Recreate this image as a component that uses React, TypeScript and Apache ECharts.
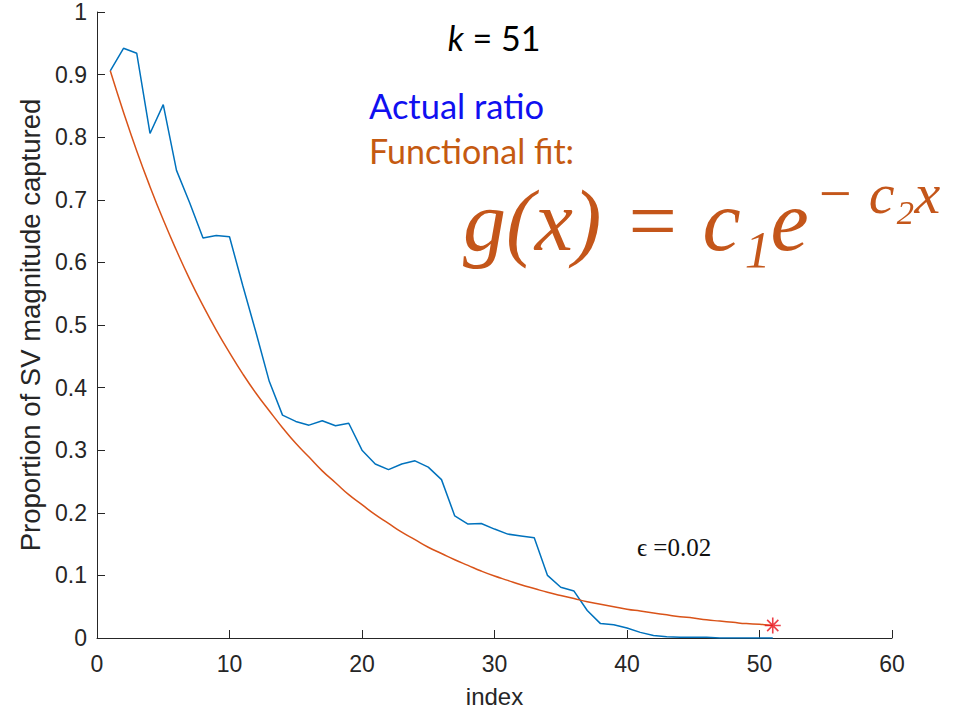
import React, { useEffect, useRef } from "react";
import * as echarts from "echarts";

const xIndex = [1,2,3,4,5,6,7,8,9,10,11,12,13,14,15,16,17,18,19,20,21,22,23,24,25,26,27,28,29,30,31,32,33,34,35,36,37,38,39,40,41,42,43,44,45,46,47,48,49,50,51];
const actualRatio = [0.906,0.942,0.934,0.806,0.852,0.747,0.695,0.639,0.643,0.641,0.563,0.488,0.410,0.356,0.346,0.340,0.347,0.339,0.343,0.300,0.278,0.269,0.278,0.283,0.273,0.253,0.195,0.182,0.183,0.174,0.166,0.163,0.160,0.100,0.081,0.075,0.044,0.023,0.021,0.016,0.009,0.004,0.002,0.001,0.001,0.001,0.000,0.000,0.000,0.000,0.000];
const functionalFit = [0.906,0.840,0.778,0.721,0.668,0.619,0.573,0.531,0.492,0.456,0.422,0.391,0.363,0.336,0.311,0.289,0.267,0.248,0.229,0.213,0.197,0.183,0.169,0.157,0.145,0.135,0.125,0.116,0.107,0.099,0.092,0.085,0.079,0.073,0.068,0.063,0.058,0.054,0.050,0.046,0.043,0.040,0.037,0.034,0.032,0.029,0.027,0.025,0.023,0.022,0.020];
const cutoffPoint = [51, 0.02];
const xTicks = [0, 10, 20, 30, 40, 50, 60];
const yTicks = [0, 0.1, 0.2, 0.3, 0.4, 0.5, 0.6, 0.7, 0.8, 0.9, 1];

const AXIS = "#262626";
const FIT = "#C55A11";
const MATH = "#C4561A";
const SERIF = "'Liberation Serif', 'DejaVu Serif', serif";
const SANS = "'Liberation Sans', Arial, sans-serif";
const UI = "Lato, 'Open Sans', sans-serif";

export default function App() {
  const ref = useRef<HTMLDivElement>(null);
  useEffect(() => {
    if (!ref.current) return;
    const chart = echarts.init(ref.current, null, { renderer: "svg" });
    const option: any = {
      animation: false,
      backgroundColor: "#ffffff",
      grid: { left: 97, right: 79, top: 12, bottom: 73, containLabel: false },
      xAxis: {
        type: "value", min: 0, max: 60, interval: 10,
        name: "index", nameLocation: "middle", nameGap: 46,
        nameTextStyle: { fontFamily: SANS, fontSize: 24, color: AXIS },
        axisLine: { onZero: false, lineStyle: { color: AXIS, width: 1 } },
        axisTick: { inside: true, length: 8, lineStyle: { color: AXIS } },
        axisLabel: { fontFamily: SANS, fontSize: 23, color: AXIS, margin: 14, customValues: xTicks },
        splitLine: { show: false },
      },
      yAxis: {
        type: "value", min: 0, max: 1, interval: 0.1,
        name: "Proportion of SV magnitude captured", nameLocation: "middle", nameGap: 50,
        nameTextStyle: { fontFamily: SANS, fontSize: 27.5, color: AXIS },
        axisLine: { show: true, onZero: false, lineStyle: { color: AXIS, width: 1 } },
        axisTick: { show: true, inside: true, length: 8, lineStyle: { color: AXIS } },
        axisLabel: {
          fontFamily: SANS, fontSize: 23, color: AXIS, margin: 10,
          formatter: (v: number) => {
            const t = yTicks.find((q) => Math.abs(q - v) < 1e-9);
            return t === undefined ? "" : String(t);
          },
        },
        splitLine: { show: false },
      },
      series: [
        { type: "line", name: "Actual ratio", data: xIndex.map((x, i) => [x, actualRatio[i]]), showSymbol: false, lineStyle: { color: "#0072BD", width: 1.5 }, z: 2 },
        { type: "line", name: "Functional fit", data: xIndex.map((x, i) => [x, functionalFit[i]]), showSymbol: false, smooth: true, lineStyle: { color: "#D95319", width: 1.5 }, z: 3 },
        {
          type: "scatter", data: [cutoffPoint],
          symbol: "path://M0,-10L0,10M-10,0L10,0M-7,-7L7,7M-7,7L7,-7", symbolSize: 16,
          itemStyle: { color: "none", borderColor: "#E8101A", borderWidth: 1.6 }, z: 4,
        },
      ],
      graphic: [
        { type: "text", x: 463, y: 221, style: { text: "g(x) = c\u2081e", fontFamily: "Liberation Serif", fontSize: 86, fontStyle: "italic", fill: MATH, align: "left", verticalAlign: "middle" } },
        { type: "text", x: 815, y: 193, style: { text: "\u2212 c\u2082x", fontFamily: "Liberation Serif", fontSize: 58, fontStyle: "italic", fill: MATH, align: "left", verticalAlign: "middle" } },
        { type: "text", x: 637, y: 547, style: { text: "\u03f5 =0.02", fontFamily: SERIF, fontSize: 25, fill: "#111", align: "left", verticalAlign: "middle" } },
        {
          type: "text", x: 494, y: 37,
          style: {
            text: "{k|k}{n| = 51}", align: "center", verticalAlign: "middle",
            rich: {
              k: { fontFamily: UI, fontStyle: "italic", fontSize: 34, fill: "#000" },
              n: { fontFamily: UI, fontSize: 34, fill: "#000" },
            },
          },
        },
        { type: "text", x: 369, y: 105, style: { text: "Actual ratio", fontFamily: UI, fontSize: 34.5, fill: "#1010F0", align: "left", verticalAlign: "middle" } },
        { type: "text", x: 369, y: 150, style: { text: "Functional fit:", fontFamily: UI, fontSize: 34, fill: FIT, align: "left", verticalAlign: "middle" } },
      ],
    };
    chart.setOption(option);
    return () => chart.dispose();
  }, []);
  return <div ref={ref} style={{ position: "fixed", left: 0, top: 0, width: 971, height: 713 }} />;
}
